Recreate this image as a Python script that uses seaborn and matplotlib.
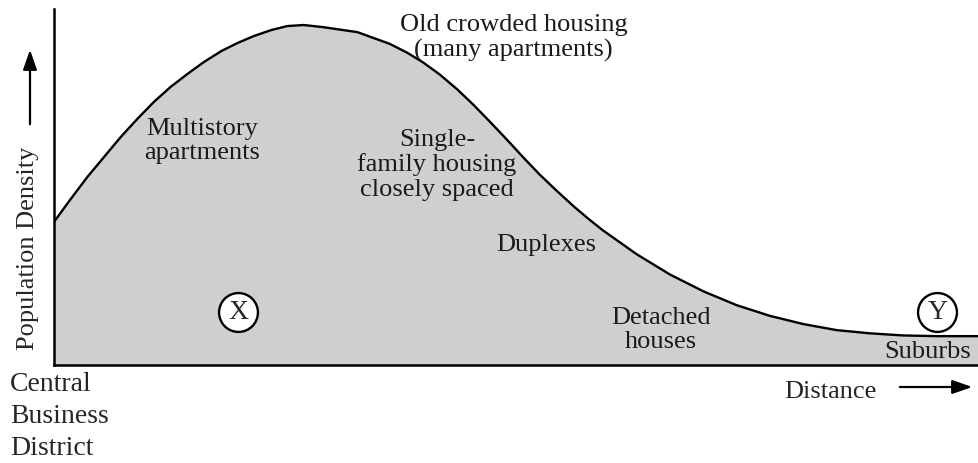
import pandas as pd
import matplotlib
matplotlib.use("Agg")
import matplotlib.pyplot as plt
import seaborn as sns

# Density profile (distance 0-100, density 0-100)
distance = [0.0, 1.8, 3.6, 5.4, 7.2, 9.0, 10.8, 12.6, 14.4, 16.2, 18.1, 19.8,
            21.6, 23.5, 25.2, 27.0, 29.1, 32.8, 36.3, 38.2, 39.9, 41.7, 43.6,
            45.3, 47.1, 49.0, 50.7, 52.5, 54.4, 56.3, 57.9, 59.3, 63.0, 66.6,
            70.2, 73.8, 77.4, 81.0, 84.6, 88.2, 91.8, 95.5, 100.0]
density = [40.2, 46.6, 52.8, 58.4, 64.0, 69.1, 73.9, 78.1, 81.7, 85.1, 88.2, 90.4,
           92.4, 94.1, 95.2, 95.5, 94.9, 93.5, 90.2, 87.7, 85.0, 81.6, 77.4,
           73.2, 68.4, 63.2, 58.4, 53.5, 48.8, 44.3, 40.8, 37.9, 31.1, 25.4,
           20.7, 16.8, 13.8, 11.5, 9.8, 8.9, 8.3, 8.1, 8.1]

# Zone labels inside the plot (data coords)
zone_labels = ["Old crowded housing\n(many apartments)", "Multistory\napartments",
               "Single-\nfamily housing\nclosely spaced", "Duplexes",
               "Detached\nhouses", "Suburbs"]
zone_x = [49.7, 16.0, 41.4, 53.2, 65.6, 94.5]
zone_y = [92.2, 63.2, 56.5, 34.0, 10.1, 3.9]

# Circled markers
circle_labels = ["X", "Y"]
circle_x = [19.9, 95.5]
circle_y = [14.9, 14.9]

df = pd.DataFrame({"distance": distance, "density": density})

sns.set_theme(style="white")
plt.rcParams["font.family"] = ["Liberation Serif", "DejaVu Serif"]

W, H = 979, 464
fig = plt.figure(figsize=(W / 100, H / 100), dpi=100)
ax = fig.add_axes([54 / W, 98 / H, 925 / W, 356 / H])

ax.fill_between(df["distance"], df["density"], 0, color="#cfcfcf", zorder=1)
sns.lineplot(data=df, x="distance", y="density", color="black", linewidth=1.7,
             ax=ax, zorder=2)

ax.set_xlim(0, 100)
ax.set_ylim(0, 100)
ax.set_xticks([])
ax.set_yticks([])
ax.set_xlabel("")
ax.set_ylabel("")
for side in ["top", "right"]:
    ax.spines[side].set_visible(False)
for side in ["left", "bottom"]:
    ax.spines[side].set_color("black")
    ax.spines[side].set_linewidth(1.8)
    ax.spines[side].set_zorder(5)

fs = 19
for txt, x, y in zip(zone_labels, zone_x, zone_y):
    ax.text(x, y, txt, ha="center", va="center", fontsize=fs, linespacing=1.15,
            color="#1a1a1a", zorder=4)

ax.plot(circle_x, circle_y, "o", markersize=28, markerfacecolor="white",
        markeredgecolor="black", markeredgewidth=1.7, zorder=3, clip_on=False)
for txt, x, y in zip(circle_labels, circle_x, circle_y):
    ax.text(x, y, txt, ha="center", va="center", fontsize=fs + 1, zorder=4)


def fx(px):
    return px / W


def fy(py):
    return 1 - py / H


# Axis captions outside the plot
fig.text(fx(10), fy(372), "Central\nBusiness\nDistrict", ha="left", va="top",
         fontsize=fs + 1, linespacing=1.38)
fig.text(fx(830), fy(392), "Distance", ha="center", va="center", fontsize=fs)
fig.text(fx(28), fy(248), "Population Density", ha="center", va="center",
         rotation=90, fontsize=fs)

fig.add_artist(matplotlib.patches.FancyArrowPatch(
    (fx(897), fy(388)), (fx(975), fy(388)), transform=fig.transFigure,
    arrowstyle="-|>,head_length=1.0,head_width=0.35", color="black", lw=1.6,
    mutation_scale=12))
fig.add_artist(matplotlib.patches.FancyArrowPatch(
    (fx(30), fy(128)), (fx(30), fy(48)), transform=fig.transFigure,
    arrowstyle="-|>,head_length=1.0,head_width=0.35", color="black", lw=1.6,
    mutation_scale=12))

fig.savefig("out.png", dpi=100)
